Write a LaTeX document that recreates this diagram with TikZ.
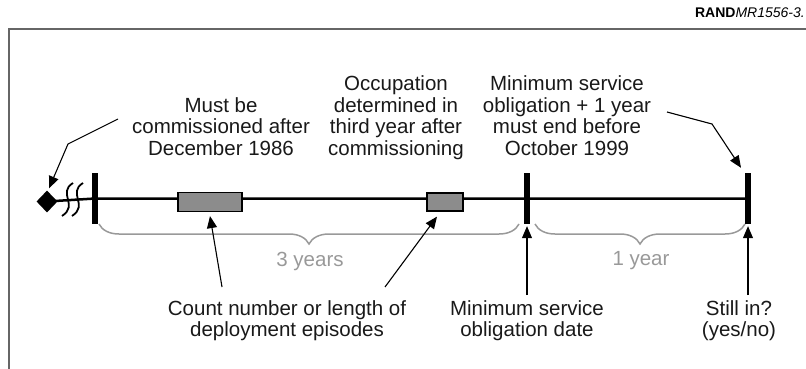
\documentclass[tikz,border=0pt]{standalone}
\usepackage{fontspec}
\setmainfont{Liberation Sans}
\usepackage{tikz}
\usetikzlibrary{arrows.meta,positioning,shapes.geometric,decorations.pathreplacing}

\begin{document}
\begin{tikzpicture}[x=1pt, y=-1pt,
    note/.style={align=center, inner sep=0pt, anchor=north, text=black!90, font=\fontsize{20.5}{21.5}\selectfont},
    tick/.style={fill=black, inner sep=0pt, minimum width=5.5pt, minimum height=51pt},
    episode/.style={draw=black, line width=1.2pt, fill=black!45, inner sep=0pt},
    pointer/.style={line width=1.1pt, -{Triangle[length=12pt, width=10pt]}},
    span/.style={draw=black!40, line width=1.5pt, decorate, decoration={brace, mirror, amplitude=20pt}},
    spanlabel/.style={text=black!40, inner sep=0pt, font=\fontsize{20.5}{21.5}\selectfont}]
    \useasboundingbox (0,0) rectangle (806,369);

    % frame and figure number
    \draw[black!60, line width=2pt] (9,369) -- (9,29) -- (806,29);
    \node[anchor=base east, inner sep=0pt, font=\fontsize{14}{16}\selectfont] (figId) at (805,18) {\textbf{RAND}\textit{MR1556-3.}};

    % time line: open start, three marks
    \node[diamond, fill=black, inner sep=0pt, minimum width=21pt, minimum height=22pt] (start) at (47,201.5) {};
    \node[tick] (tickA) at (95,198.5) {};
    \node[tick] (tickB) at (527,198.5) {};
    \node[tick] (tickC) at (748,198.5) {};
    \draw[line width=2.5pt] (start.center) -- (tickA.center) -- (tickB.center) -- (tickC.center);
    % break marks
    \draw[line width=1.8pt] (73,183) .. controls (57,193) and (79,205) .. (62,216);
    \draw[line width=1.8pt] (83,183) .. controls (67,193) and (89,205) .. (72,216);

    % deployment episodes
    \node[episode, minimum width=64pt, minimum height=19pt] (epA) at (210,202) {};
    \node[episode, minimum width=36pt, minimum height=18pt] (epB) at (445,202) {};

    % spans under the line
    \draw[span] (99,224) -- (519,224);
    \draw[span] (535,224) -- (745,224);
    \node[spanlabel] (spanA) at (310,261) {3 years};
    \node[spanlabel] (spanB) at (641,261) {1 year};

    % notes above
    \node[note] (commNote) at (221,97) {Must be\\commissioned after\\December 1986};
    \node[note] (occNote) at (396,75.5) {Occupation\\determined in\\third year after\\commissioning};
    \node[note] (msoNote) at (567,75.5) {Minimum service\\obligation + 1 year\\must end before\\October 1999};

    % notes below
    \node[note] (countNote) at (287,300) {Count number or length of\\deployment episodes};
    \node[note] (msoDate) at (527,300) {Minimum service\\obligation date};
    \node[note] (stillIn) at (739,300) {Still in?\\(yes/no)};

    % pointers
    \coordinate (commTail) at (118,119);
    \coordinate (commBend) at (68,144);
    \draw[pointer] (commTail) -- (commBend) -- ([shift={(2,-2)}]start.north);
    \coordinate (msoTail) at (667,112);
    \coordinate (msoBend) at (712,124);
    \draw[pointer] (msoTail) -- (msoBend) -- ([shift={(-7,-5)}]tickC.north);
    \coordinate (countTailA) at (222,287);
    \coordinate (countTailB) at (385,287);
    \draw[pointer] (countTailA) -- ([shift={(0,4)}]epA.south);
    \draw[pointer] (countTailB) -- ([shift={(-8,5)}]epB.south);
    \draw[pointer] ([shift={(0,-5)}]msoDate.north) -- ([shift={(0,2)}]tickB.south);
    \coordinate (stillTail) at (748,295);
    \draw[pointer] (stillTail) -- ([shift={(0,2)}]tickC.south);
\end{tikzpicture}
\end{document}
